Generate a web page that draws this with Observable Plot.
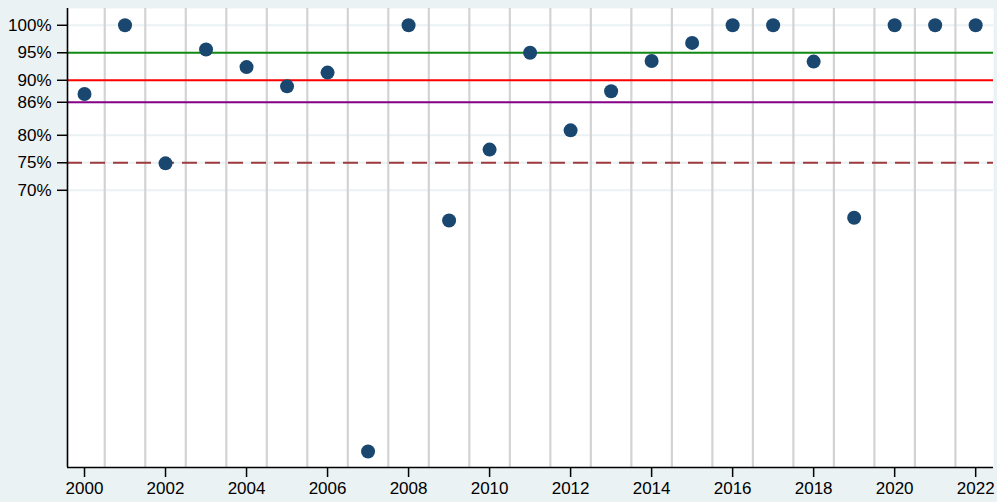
<!DOCTYPE html>
<html>
<head>
<meta charset="utf-8">
<script src="https://cdn.jsdelivr.net/npm/d3@7"></script>
<script src="https://cdn.jsdelivr.net/npm/@observablehq/plot@0.6"></script>
<style>
  html, body { margin: 0; padding: 0; background: #eaf2f3; }
  #chart { width: 997px; height: 502px; }
</style>
</head>
<body>
<div id="chart"></div>
<script>
const years = [2000,2001,2002,2003,2004,2005,2006,2007,2008,2009,2010,2011,2012,2013,2014,2015,2016,2017,2018,2019,2020,2021,2022];
const values = [87.5,100,74.9,95.6,92.4,88.9,91.4,22.5,100,64.5,77.4,95.0,80.9,88.0,93.5,96.8,100,100,93.4,65.0,100,100,100];
const yTicks = [100,95,90,86,80,75,70];
const xTicks = [2000,2002,2004,2006,2008,2010,2012,2014,2016,2018,2020,2022];
const halfYears = [2000.5,2001.5,2002.5,2003.5,2004.5,2005.5,2006.5,2007.5,2008.5,2009.5,2010.5,2011.5,2012.5,2013.5,2014.5,2015.5,2016.5,2017.5,2018.5,2019.5,2020.5,2021.5];
const refLines = [
  {value: 95, color: "#138a13", dash: null},
  {value: 90, color: "#ff0000", dash: null},
  {value: 86, color: "#880088", dash: null},
  {value: 75, color: "#9e3b3e", dash: "15,8"}
];

const data = years.map((y, i) => ({year: y, value: values[i]}));
const xDomain = [1999.58, 2022.44];
const yDomain = [19.6, 103.05];

const chart = Plot.plot({
  width: 997,
  height: 502,
  marginLeft: 67,
  marginTop: 8,
  marginRight: 4,
  marginBottom: 35,
  style: {background: "transparent", fontFamily: "'Liberation Sans', Arial, sans-serif", fontSize: "17px", color: "#000"},
  x: {domain: xDomain, axis: null},
  y: {domain: yDomain, axis: null},
  marks: [
    Plot.frame({fill: "white", stroke: null}),
    Plot.ruleY(yTicks, {stroke: "#eaf2f3", strokeWidth: 2}),
    Plot.ruleX(halfYears, {stroke: "#d3d3d3", strokeWidth: 2.2}),
    ...refLines.map(r => Plot.ruleY([r.value], {stroke: r.color, strokeWidth: 2, strokeDasharray: r.dash})),
    Plot.dot(data, {x: "year", y: "value", r: 7, fill: "#1a476f", stroke: null}),
    Plot.ruleX([xDomain[0]], {stroke: "#000", strokeWidth: 1.6}),
    Plot.ruleY([yDomain[0]], {stroke: "#000", strokeWidth: 1.6}),
    Plot.axisY({ticks: yTicks, tickFormat: d => d + "%", tickSize: 10, tickPadding: 6, fontSize: 17, stroke: "#000", strokeWidth: 1.5, anchor: "left", label: null}),
    Plot.axisX({ticks: xTicks, tickFormat: d => String(d), tickSize: 10, tickPadding: 4, fontSize: 17, stroke: "#000", strokeWidth: 1.5, anchor: "bottom", label: null})
  ]
});
document.getElementById("chart").appendChild(chart);
</script>
</body>
</html>
